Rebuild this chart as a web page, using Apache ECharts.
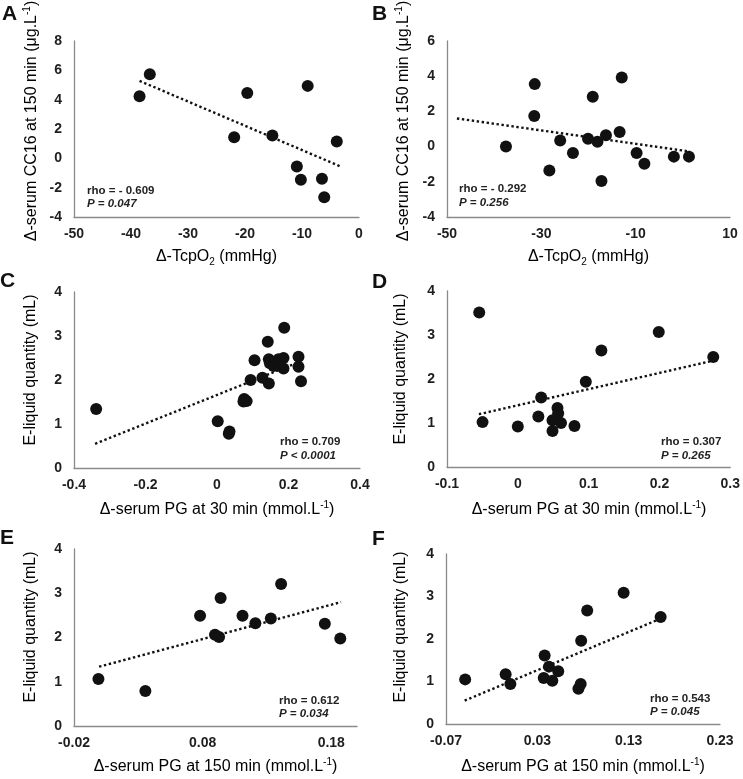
<!DOCTYPE html>
<html><head><meta charset="utf-8">
<script src="https://cdn.jsdelivr.net/npm/echarts@6/dist/echarts.min.js"></script>
<style>html,body{margin:0;padding:0;background:#fff}#c{width:743px;height:779px}</style>
</head><body><div id="c"></div>
<script>
// ---- Panel A ----
const aX = [-38.5, -36.7, -21.9, -19.6, -15.2, -10.9, -10.2, -9.0, -6.5, -6.1, -3.9];
const aY = [4.24, 5.74, 1.43, 4.45, 1.55, -0.56, -1.46, 4.94, -1.40, -2.66, 1.14];
const aTrendX = [-38.5, -3.2];
const aTrendY = [5.28, -0.56];
const aXTicks = [-50, -40, -30, -20, -10, 0];
const aYTicks = [-4, -2, 0, 2, 4, 6, 8];
// ---- Panel B ----
const bX = [-37.5, -31.4, -31.5, -28.3, -26.0, -23.3, -20.1, -19.1, -18.1, -17.25, -16.3, -13.4, -12.95, -9.8, -8.15, -1.9, 1.3];
const bY = [0.0, 3.55, 1.74, -1.36, 0.34, -0.36, 0.45, 2.83, 0.28, -1.96, 0.64, 0.83, 3.92, -0.36, -0.98, -0.57, -0.57];
const bTrendX = [-47.9, 1.5];
const bTrendY = [1.60, -0.28];
const bXTicks = [-50, -30, -10, 10];
const bYTicks = [-4, -2, 0, 2, 4, 6];
// ---- Panel C ----
const cX = [-0.338, 0.002, 0.035, 0.033, 0.076, 0.074, 0.083, 0.094, 0.105, 0.127, 0.142, 0.145, 0.145, 0.148, 0.158, 0.172, 0.186, 0.188, 0.186, 0.228, 0.228, 0.235];
const cY = [1.34, 1.06, 0.83, 0.78, 1.57, 1.51, 1.52, 2.0, 2.45, 2.05, 2.87, 2.47, 1.92, 2.38, 2.32, 2.47, 2.5, 3.19, 2.26, 2.53, 2.30, 1.97];
const cTrendX = [-0.341, 0.221];
const cTrendY = [0.55, 2.38];
const cXTicks = [-0.4, -0.2, 0, 0.2, 0.4];
const cYTicks = [0, 1, 2, 3, 4];
// ---- Panel D ----
const dX = [-0.0545, -0.0498, 0.0, 0.029, 0.033, 0.049, 0.049, 0.056, 0.057, 0.061, 0.080, 0.096, 0.118, 0.199, 0.276];
const dY = [3.51, 1.02, 0.92, 1.15, 1.58, 1.06, 0.82, 1.34, 1.22, 1.0, 0.93, 1.94, 2.65, 3.07, 2.50];
const dTrendX = [-0.055, 0.274];
const dTrendY = [1.20, 2.41];
const dXTicks = [-0.1, 0, 0.1, 0.2, 0.3];
const dYTicks = [0, 1, 2, 3, 4];
// ---- Panel E ----
const eX = [-0.001, 0.0355, 0.078, 0.0896, 0.0928, 0.094, 0.111, 0.121, 0.133, 0.141, 0.175, 0.187];
const eY = [1.06, 0.79, 2.49, 2.06, 2.01, 2.89, 2.49, 2.32, 2.43, 3.21, 2.31, 1.98];
const eTrendX = [-0.0005, 0.1876];
const eTrendY = [1.34, 2.80];
const eXTicks = [-0.02, 0.08, 0.18];
const eYTicks = [0, 1, 2, 3, 4];
// ---- Panel F ----
const fX = [-0.049, -0.0047, 0.0005, 0.037, 0.038, 0.0427, 0.0464, 0.0529, 0.075, 0.0775, 0.078, 0.0846, 0.1245, 0.165];
const fY = [1.05, 1.17, 0.94, 1.08, 1.61, 1.35, 1.02, 1.24, 0.83, 0.94, 1.96, 2.67, 3.09, 2.52];
const fTrendX = [-0.0496, 0.165];
const fTrendY = [0.55, 2.48];
const fXTicks = [-0.07, 0.03, 0.13, 0.23];
const fYTicks = [0, 1, 2, 3, 4];

const letters = ['A', 'B', 'C', 'D', 'E', 'F'];
const statRho = ['rho = - 0.609', 'rho = - 0.292', 'rho = 0.709', 'rho = 0.307', 'rho = 0.612', 'rho = 0.543'];
const statP = ['P = 0.047', 'P = 0.256', 'P < 0.0001', 'P = 0.265', 'P = 0.034', 'P = 0.045'];

const zip = (xs, ys) => xs.map((x, i) => [x, ys[i]]);

const panels = [
  { x: aX, y: aY, tx: aTrendX, ty: aTrendY, xt: aXTicks, yt: aYTicks, xr: [-50, 0], yr: [-4, 8],
    grid: { left: 74, top: 41, width: 285, height: 176 } },
  { x: bX, y: bY, tx: bTrendX, ty: bTrendY, xt: bXTicks, yt: bYTicks, xr: [-50, 10], yr: [-4, 6],
    grid: { left: 447, top: 41, width: 283, height: 176 } },
  { x: cX, y: cY, tx: cTrendX, ty: cTrendY, xt: cXTicks, yt: cYTicks, xr: [-0.4, 0.4], yr: [0, 4],
    grid: { left: 74, top: 292, width: 286, height: 176 } },
  { x: dX, y: dY, tx: dTrendX, ty: dTrendY, xt: dXTicks, yt: dYTicks, xr: [-0.1, 0.3], yr: [0, 4],
    grid: { left: 447, top: 291, width: 284, height: 176 } },
  { x: eX, y: eY, tx: eTrendX, ty: eTrendY, xt: eXTicks, yt: eYTicks, xr: [-0.02, 0.2], yr: [0, 4],
    grid: { left: 74, top: 549, width: 283, height: 177 } },
  { x: fX, y: fY, tx: fTrendX, ty: fTrendY, xt: fXTicks, yt: fYTicks, xr: [-0.07, 0.23], yr: [0, 4],
    grid: { left: 446, top: 554, width: 274, height: 170 } }
];

const FONT = '"Liberation Sans", Arial, Helvetica, sans-serif';
const axisLineStyle = { color: '#8a8a8a', width: 1.3 };
const tickLabel = { fontFamily: FONT, fontSize: 14, fontWeight: 'bold', color: '#1e1e1e' };

const option = {
  backgroundColor: '#ffffff',
  animation: false,
  grid: [], xAxis: [], yAxis: [], series: [], graphic: []
};

panels.forEach((p, i) => {
  option.grid.push(Object.assign({ containLabel: false }, p.grid));
  option.xAxis.push({
    type: 'value', gridIndex: i, min: p.xr[0], max: p.xr[1],
    axisLine: { show: true, onZero: false, lineStyle: axisLineStyle },
    axisTick: { show: false }, splitLine: { show: false },
    axisLabel: Object.assign({ margin: 10, customValues: p.xt, showMinLabel: true, showMaxLabel: true }, tickLabel)
  });
  option.yAxis.push({
    type: 'value', gridIndex: i, min: p.yr[0], max: p.yr[1],
    axisLine: { show: true, onZero: false, lineStyle: axisLineStyle },
    axisTick: { show: false }, splitLine: { show: false },
    axisLabel: Object.assign({ margin: 12, customValues: p.yt, showMinLabel: true, showMaxLabel: true }, tickLabel)
  });
  option.series.push({
    type: 'line', xAxisIndex: i, yAxisIndex: i, data: zip(p.tx, p.ty),
    showSymbol: false, symbol: 'none', silent: true, z: 2,
    lineStyle: { color: '#111', width: 2.4, type: [2.4, 2.6] }
  });
  option.series.push({
    type: 'scatter', xAxisIndex: i, yAxisIndex: i, data: zip(p.x, p.y),
    symbol: 'circle', symbolSize: 12, z: 3,
    itemStyle: { color: '#111111', opacity: 1 }
  });
});

// Panel letters
const letterPos = [[2, 4], [372, 4], [0, 271], [372, 272], [0, 528], [372, 529]];
letterPos.forEach((pos, i) => {
  option.graphic.push({ type: 'text', left: pos[0], top: pos[1],
    style: { text: letters[i], font: 'bold 21px ' + FONT, fill: '#111' } });
});

// Stats annotations
const statPos = [[87, 191, 204], [459, 189, 203], [280, 442, 456], [661, 442, 456], [279, 701, 714], [650, 699, 712]];
statPos.forEach((s, i) => {
  option.graphic.push({ type: 'text', x: s[0], y: s[1],
    style: { text: statRho[i], font: 'bold 11.5px ' + FONT, fill: '#222', verticalAlign: 'middle', align: 'left' } });
  option.graphic.push({ type: 'text', x: s[0], y: s[2],
    style: { text: statP[i], font: 'italic bold 11.5px ' + FONT, fill: '#222', verticalAlign: 'middle', align: 'left' } });
});

// Axis titles (rich text for sub/superscripts)
const rich = {
  n: { fontFamily: FONT, fontSize: 16, color: '#262626', lineHeight: 20 },
  sub: { fontFamily: FONT, fontSize: 10, color: '#262626', lineHeight: 11, verticalAlign: 'bottom' },
  sup: { fontFamily: FONT, fontSize: 10, color: '#262626', lineHeight: 11, verticalAlign: 'top' }
};
const xTitleTcp = '{n|Δ-TcpO}{sub|2}{n| (mmHg)}';
const xTitlePG30 = '{n|Δ-serum PG at 30 min (mmol.L}{sup|-1}{n|)}';
const xTitlePG150 = '{n|Δ-serum PG at 150 min (mmol.L}{sup|-1}{n|)}';
const yTitleCC16 = '{n|Δ-serum CC16 at 150 min (μg.L}{sup|-1}{n|)}';
const yTitleEliq = '{n|E-liquid quantity (mL)}';

const xTitles = [
  [xTitleTcp, 216.5, 257], [xTitleTcp, 588.5, 257],
  [xTitlePG30, 217, 510], [xTitlePG30, 589, 510],
  [xTitlePG150, 215.5, 767], [xTitlePG150, 583, 767]
];
xTitles.forEach(t => {
  option.graphic.push({ type: 'text', x: t[1], y: t[2],
    style: { text: t[0], rich: rich, align: 'center', verticalAlign: 'middle' } });
});
const yTitles = [
  [yTitleCC16, 32, 121], [yTitleCC16, 404, 121],
  [yTitleEliq, 31, 370], [yTitleEliq, 401, 369],
  [yTitleEliq, 31, 627], [yTitleEliq, 401, 627]
];
yTitles.forEach(t => {
  option.graphic.push({ type: 'text', x: t[1], y: t[2], rotation: Math.PI / 2,
    style: { text: t[0], rich: rich, align: 'center', verticalAlign: 'middle' } });
});

const chart = echarts.init(document.getElementById('c'), null, { renderer: 'canvas' });
chart.setOption(option);
</script>
</body></html>
